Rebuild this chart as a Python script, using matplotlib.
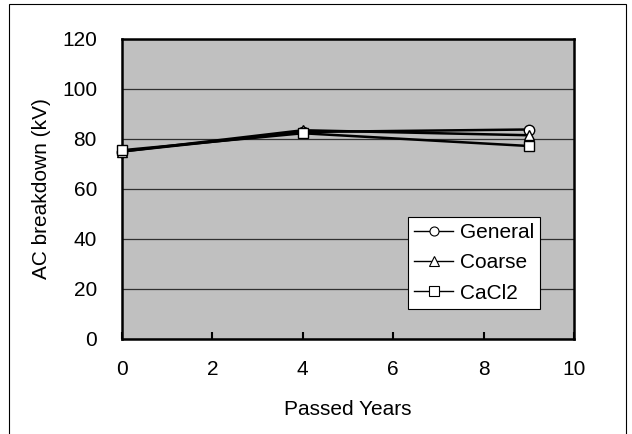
import matplotlib.pyplot as plt
from matplotlib.lines import Line2D
from matplotlib.patches import Rectangle

plt.rcParams['font.family'] = ['Liberation Sans', 'DejaVu Sans']

years = [0, 4, 9]
general = [75.0, 82.8, 83.8]
coarse = [75.0, 83.5, 81.5]
cacl2 = [75.5, 82.3, 77.2]
series = [("General", general, "o"), ("Coarse", coarse, "^"), ("CaCl2", cacl2, "s")]

fig = plt.figure(figsize=(6.32, 4.34), dpi=100)
ax = fig.add_axes([122 / 632, 1 - 339 / 434, (574 - 122) / 632, (339 - 39) / 434])
ax.set_facecolor("#c0c0c0")

handles = []
for name, vals, m in series:
    ax.plot(years, vals, color="black", lw=1.8, marker=m, ms=7.5,
            mfc="white", mec="black", mew=1.0, clip_on=False, zorder=3)
    handles.append(Line2D([], [], color="black", lw=1.0, marker=m, ms=6.5,
                          mfc="white", mec="black", mew=0.8, label=name))

ax.set_xlim(0, 10)
ax.set_ylim(0, 120)
ax.set_xticks(range(0, 11, 2))
ax.set_yticks(range(0, 121, 20))
ax.grid(axis="y", color="#303030", lw=0.9)
ax.set_axisbelow(True)
for s in ax.spines.values():
    s.set_linewidth(1.8)
ax.tick_params(axis="x", direction="in", length=5, width=1.5, labelsize=15, pad=15)
ax.tick_params(axis="y", length=0, labelsize=15, pad=18)
ax.set_xlabel("Passed Years", fontsize=15, labelpad=15)
ax.set_ylabel("AC breakdown (kV)", fontsize=15, labelpad=8)

leg = ax.legend(handles=handles, loc="lower right", bbox_to_anchor=(0.925, 0.1),
                fontsize=15, frameon=True, fancybox=False, edgecolor="black",
                framealpha=1, handlelength=1.9, handletextpad=0.3, borderpad=0.3,
                labelspacing=0.55, borderaxespad=0)
leg.get_frame().set_linewidth(0.8)

fig.patches.append(Rectangle((9 / 632, -0.05), 617 / 632, 1.05 - 4 / 434,
                             transform=fig.transFigure, fill=False,
                             edgecolor="black", lw=0.8))

fig.savefig("out.png")
